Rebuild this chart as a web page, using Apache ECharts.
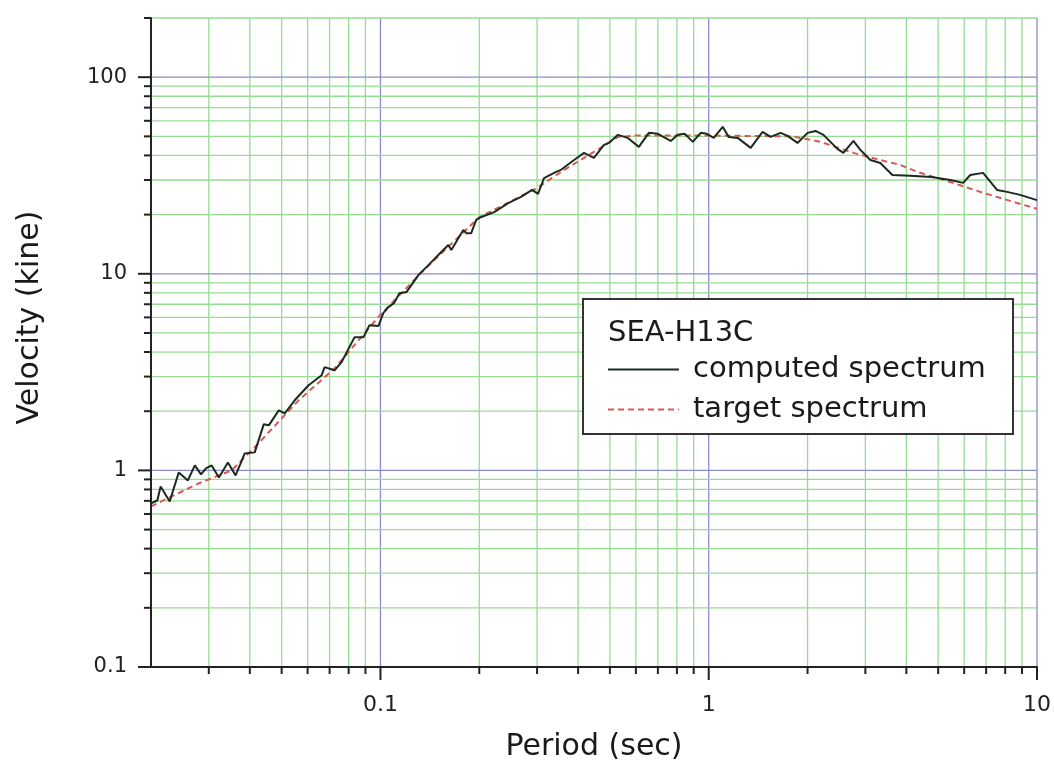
<!DOCTYPE html>
<html><head><meta charset="utf-8">
<script src="https://cdn.jsdelivr.net/npm/echarts@6/dist/echarts.min.js"></script>
<style>html,body{margin:0;padding:0;background:#fff}#c{width:1054px;height:767px}</style>
</head><body><div id="c"></div>
<script>
const computedPeriod = [0.02,0.0209,0.0214,0.0228,0.0243,0.0259,0.0272,0.0284,0.0294,0.0306,0.0322,0.0343,0.0362,0.0386,0.0414,0.0441,0.0457,0.049,0.0511,0.0548,0.0604,0.0662,0.0676,0.0725,0.0761,0.0816,0.0834,0.0888,0.0926,0.0986,0.102,0.1057,0.110,0.1142,0.120,0.1305,0.140,0.1532,0.161,0.1644,0.1788,0.1826,0.189,0.1958,0.2028,0.222,0.245,0.268,0.2897,0.302,0.315,0.3427,0.355,0.3888,0.417,0.447,0.4796,0.4966,0.529,0.567,0.6125,0.657,0.6998,0.766,0.805,0.8456,0.894,0.9455,0.986,1.036,1.103,1.15,1.225,1.342,1.459,1.543,1.655,1.739,1.864,2.0,2.115,2.236,2.466,2.572,2.759,2.897,3.108,3.333,3.625,4.11,4.763,5.44,5.96,6.26,6.85,7.556,8.11,8.88,10];
const computedVelocity = [0.679,0.703,0.829,0.695,0.977,0.889,1.06,0.954,1.024,1.06,0.921,1.098,0.943,1.22,1.235,1.715,1.695,2.02,1.951,2.273,2.71,3.05,3.35,3.23,3.55,4.44,4.76,4.76,5.48,5.42,6.31,6.77,7.09,7.97,8.07,9.85,11.07,12.9,14.0,13.2,16.7,16.1,16.1,18.8,19.45,20.6,22.9,24.6,26.7,25.5,30.7,33.0,33.8,37.9,41.2,38.9,45.2,46.3,50.9,49.1,44.2,52.1,51.5,47.4,50.9,51.5,46.9,52.1,51.5,49.1,55.9,49.7,49.1,43.7,52.7,49.7,52.1,50.3,46.3,52.1,53.3,50.9,43.2,41.2,47.4,42.7,37.9,36.6,31.8,31.5,31.1,30.0,29.0,31.8,32.6,26.7,26.1,25.2,23.7];
const targetPeriod = [0.02,0.028,0.0352,0.0419,0.0563,0.0725,0.1,0.14,0.2,0.3,0.355,0.447,0.529,0.6,1,1.8,2.19,2.76,3.33,3.83,4.32,5.44,6.85,7.74,8.7,10];
const targetVelocity = [0.656,0.86,1.0,1.34,2.27,3.3,6.2,11.0,19.4,27.3,33,41.7,49.7,50.5,50.5,50,46.9,41.2,37.9,35.8,33,29.3,25.8,24.3,22.9,21.4];

const xMajorTicks = [0.1, 1, 10];
const xMajorLabels = ['0.1', '1', '10'];
const xMinorTicks = [0.03,0.04,0.05,0.06,0.07,0.08,0.09,0.2,0.3,0.4,0.5,0.6,0.7,0.8,0.9,2,3,4,5,6,7,8,9];
const yMajorTicks = [0.1, 1, 10, 100];
const yMajorLabels = ['0.1', '1', '10', '100'];
const yMinorTicks = [0.2,0.3,0.4,0.5,0.6,0.7,0.8,0.9,2,3,4,5,6,7,8,9,20,30,40,50,60,70,80,90,200];

const legendTitle = 'SEA-H13C';
const seriesNames = ['computed spectrum', 'target spectrum'];

const FONT = 'DejaVu Sans';

function labelFor(v, ticks, labels) {
  for (let i = 0; i < ticks.length; i++) {
    if (Math.abs(Math.log10(v) - Math.log10(ticks[i])) < 1e-6) return labels[i];
  }
  return '';
}

// grid/tick items: [x, y, isY, isMajor]
const gridItems = [];
xMajorTicks.forEach(v => gridItems.push([v, 1, 0, 1]));
xMinorTicks.forEach(v => gridItems.push([v, 1, 0, 0]));
yMajorTicks.forEach(v => gridItems.push([1, v, 1, 1]));
yMinorTicks.forEach(v => gridItems.push([1, v, 1, 0]));

function renderGrid(params, api) {
  const cs = params.coordSys;
  const isY = api.value(2) === 1;
  const major = api.value(3) === 1;
  const color = major ? '#8c8cc8' : '#96dc92';
  const tickLen = major ? 13 : 7;
  const pt = api.coord([api.value(0), api.value(1)]);
  const children = [];
  if (!isY) {
    const px = pt[0];
    children.push({type: 'line', shape: {x1: px, y1: cs.y, x2: px, y2: cs.y + cs.height}, style: {stroke: color, lineWidth: 1.3}});
    children.push({type: 'line', shape: {x1: px, y1: cs.y + cs.height, x2: px, y2: cs.y + cs.height + tickLen}, style: {stroke: '#222', lineWidth: 2}});
  } else {
    const py = pt[1];
    if (Math.abs(py - (cs.y + cs.height)) > 1) {
      children.push({type: 'line', shape: {x1: cs.x, y1: py, x2: cs.x + cs.width, y2: py}, style: {stroke: color, lineWidth: 1.3}});
    }
    children.push({type: 'line', shape: {x1: cs.x - tickLen, y1: py, x2: cs.x, y2: py}, style: {stroke: '#222', lineWidth: 2}});
  }
  return {type: 'group', children: children};
}

const chart = echarts.init(document.getElementById('c'), null, {renderer: 'canvas'});
chart.setOption({
  backgroundColor: '#ffffff',
  animation: false,
  grid: {left: 151, right: 17, top: 18, bottom: 100, containLabel: false},
  xAxis: {
    type: 'log', logBase: 10, min: 0.02, max: 10, z: 10,
    name: 'Period (sec)', nameLocation: 'middle', nameGap: 65,
    nameTextStyle: {fontFamily: FONT, fontSize: 30, color: '#1a1a1a'},
    axisLine: {show: true, lineStyle: {color: '#222', width: 2}},
    axisTick: {show: false},
    splitLine: {show: false},
    minorTick: {show: false},
    minorSplitLine: {show: false},
    axisLabel: {
      margin: 27, fontFamily: FONT, fontSize: 22, color: '#222',
      showMinLabel: true, showMaxLabel: true,
      formatter: v => labelFor(v, xMajorTicks, xMajorLabels)
    }
  },
  yAxis: {
    type: 'log', logBase: 10, min: 0.1, max: 200, z: 10,
    name: 'Velocity (kine)', nameLocation: 'middle', nameGap: 106,
    nameTextStyle: {fontFamily: FONT, fontSize: 30, color: '#1a1a1a', padding: [0, 0, 0, 50]},
    axisLine: {show: true, lineStyle: {color: '#222', width: 2}},
    axisTick: {show: false},
    splitLine: {show: false},
    minorTick: {show: false},
    minorSplitLine: {show: false},
    axisLabel: {
      margin: 24, fontFamily: FONT, fontSize: 21, color: '#222',
      formatter: v => labelFor(v, yMajorTicks, yMajorLabels)
    }
  },
  legend: {
    orient: 'vertical', left: 607, top: 355, padding: 0, itemGap: 11,
    itemWidth: 71, itemHeight: 14, z: 9,
    itemStyle: {opacity: 0},
    textStyle: {fontFamily: FONT, fontSize: 29, color: '#1a1a1a', padding: [0, 0, 0, 9]},
    data: seriesNames
  },
  graphic: [
    {type: 'rect', z: 8, shape: {x: 583, y: 299, width: 430, height: 135},
     style: {fill: '#ffffff', stroke: '#333', lineWidth: 2}},
    {type: 'text', z: 9, x: 608, y: 333,
     style: {text: legendTitle, fontFamily: FONT, fontSize: 29, fill: '#1a1a1a', verticalAlign: 'middle'}}
  ],
  series: [
    {
      type: 'custom', name: 'grid', coordinateSystem: 'cartesian2d', clip: false, silent: true, z: 1,
      encode: {x: 0, y: 1}, data: gridItems, renderItem: renderGrid
    },
    {
      type: 'line', name: seriesNames[1], symbol: 'none', showSymbol: false, z: 3,
      data: targetPeriod.map((t, i) => [t, targetVelocity[i]]),
      lineStyle: {color: '#d65a55', width: 2, type: [6, 4]},
      itemStyle: {color: '#d65a55'}
    },
    {
      type: 'line', name: seriesNames[0], symbol: 'none', showSymbol: false, z: 4,
      data: computedPeriod.map((t, i) => [t, computedVelocity[i]]),
      lineStyle: {color: '#1c2a20', width: 2},
      itemStyle: {color: '#1c2a20'}
    }
  ]
});
</script>
</body></html>
